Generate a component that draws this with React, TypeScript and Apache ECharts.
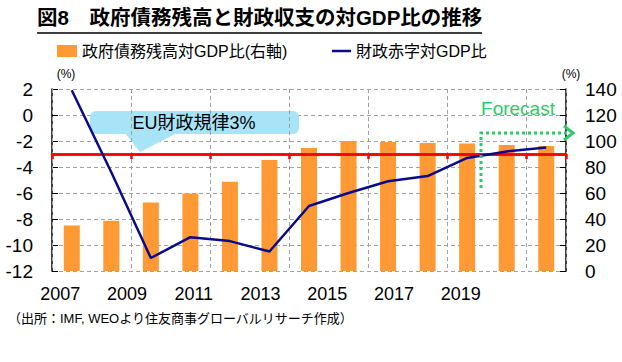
import React, { useEffect, useRef } from "react";
import * as echarts from "echarts";

const years = ["2007", "2008", "2009", "2010", "2011", "2012", "2013", "2014", "2015", "2016", "2017", "2018", "2019"];
const yearLabels = ["2007", "2009", "2011", "2013", "2015", "2017", "2019"];
const debtRatio = [35.0, 38.6, 52.6, 59.6, 68.7, 85.4, 94.6, 100.0, 99.2, 98.5, 98.0, 96.9, 96.2];
const balanceRatio = [1.9, -4.4, -11.0, -9.4, -9.7, -10.5, -7.0, -6.0, -5.1, -4.7, -3.3, -2.8, -2.5];
const euRuleLevel = -3;

const TITLE = "図8　政府債務残高と財政収支の対GDP比の推移";
const DEBT_NAME = "政府債務残高対GDP比(右軸)";
const BAL_NAME = "財政赤字対GDP比";
const SOURCE = "（出所：IMF, WEOより住友商事グローバルリサーチ作成）";
const CALLOUT = "EU財政規律3%";
const FORECAST = "Forecast";

const FONT = "'Liberation Sans', Arial, 'Noto Sans CJK JP', sans-serif";

export default function App() {
  const ref = useRef<HTMLDivElement>(null);
  useEffect(() => {
    if (!ref.current) return;
    const chart = echarts.init(ref.current, undefined, { renderer: "svg" });
    const green = "#2BCB6A";
    const option: any = {
      animation: false,
      backgroundColor: "#ffffff",
      textStyle: { fontFamily: FONT, color: "#000" },
      grid: [
        { left: 52, right: 56, top: 89, bottom: 91, containLabel: false },
        { left: 27, right: 128, top: 89, bottom: 91, containLabel: false },
      ],
      legend: [
        {
          left: 52,
          top: 38,
          itemWidth: 20,
          itemHeight: 12,
          textStyle: { fontFamily: FONT, fontSize: 16, color: "#000" },
          data: [{ name: DEBT_NAME, icon: "rect" }],
        },
        {
          left: 327,
          top: 38,
          itemWidth: 19,
          itemHeight: 2.5,
          textStyle: { fontFamily: FONT, fontSize: 16, color: "#000" },
          data: [{ name: BAL_NAME, icon: "rect" }],
        },
      ],
      xAxis: [
        {
          type: "category",
          gridIndex: 0,
          data: years,
          position: "bottom",
          offset: -117,
          axisLine: { show: true, onZero: false, lineStyle: { color: "#FF0000", width: 2.5 } },
          axisTick: { show: true, interval: 1, length: 5, lineStyle: { color: "#FF0000", width: 2.5 } },
          axisLabel: { show: false },
          splitLine: { show: true, interval: 1, lineStyle: { color: "#A0A0A0", type: [4, 3], width: 1 } },
          z: 3,
        },
        {
          type: "category",
          gridIndex: 1,
          data: yearLabels,
          axisLine: { show: false },
          axisTick: { show: false },
          axisLabel: { fontSize: 18, color: "#000", margin: 14, fontFamily: FONT },
          splitLine: { show: false },
        },
      ],
      yAxis: [
        {
          type: "value",
          gridIndex: 0,
          min: -12,
          max: 2,
          interval: 2,
          name: "(%)",
          nameLocation: "end",
          nameGap: 9,
          nameTextStyle: { fontSize: 12, color: "#000", padding: [0, 0, 0, 28], fontFamily: FONT },
          axisLine: { show: true, lineStyle: { color: "#000", width: 1.5 } },
          axisTick: { show: true, inside: true, length: 6, lineStyle: { color: "#000" } },
          axisLabel: { fontSize: 19, color: "#000", margin: 19, fontFamily: FONT },
          splitLine: { show: true, lineStyle: { color: "#A0A0A0", type: [4, 3], width: 1 } },
        },
        {
          type: "value",
          gridIndex: 0,
          position: "right",
          min: 0,
          max: 140,
          interval: 20,
          name: "(%)",
          nameLocation: "end",
          nameGap: 9,
          nameTextStyle: { fontSize: 12, color: "#000", padding: [0, 0, 0, 10], fontFamily: FONT },
          axisLine: { show: true, lineStyle: { color: "#000", width: 1.5 } },
          axisTick: { show: true, inside: true, length: 6, lineStyle: { color: "#000" } },
          axisLabel: { fontSize: 19, color: "#000", margin: 19, fontFamily: FONT },
          splitLine: { show: false },
        },
        { type: "value", gridIndex: 1, show: false, min: 0, max: 1 },
      ],
      series: [
        {
          name: DEBT_NAME,
          type: "bar",
          xAxisIndex: 0,
          yAxisIndex: 1,
          data: debtRatio,
          barWidth: 16,
          itemStyle: { color: "#FF9933" },
          z: 2,
        },
        {
          name: BAL_NAME,
          type: "line",
          xAxisIndex: 0,
          yAxisIndex: 0,
          data: balanceRatio,
          symbol: "none",
          lineStyle: { color: "#0A0A8C", width: 2.5 },
          itemStyle: { color: "#0A0A8C" },
          z: 5,
        },
        {
          name: "eu",
          type: "line",
          xAxisIndex: 0,
          yAxisIndex: 0,
          data: [],
          markLine: {
            silent: true,
            symbol: "none",
            label: { show: false },
            lineStyle: { color: "#FF0000", width: 2.5, type: "solid" },
            data: [{ yAxis: euRuleLevel }],
          },
          z: 3,
        },
      ],
      graphic: [
        {
          type: "text",
          left: 37,
          top: 7,
          style: { text: TITLE, fontSize: 20.5, fontWeight: "bold", fill: "#000", fontFamily: FONT },
        },
        {
          type: "line",
          shape: { x1: 37, y1: 33, x2: 482, y2: 33 },
          style: { stroke: "#000", lineWidth: 1.5 },
        },
        {
          type: "rect",
          z: 1,
          shape: { x: 90, y: 111, width: 209, height: 23, r: 6 },
          style: { fill: "#A8E4F8" },
        },
        {
          type: "polygon",
          z: 1,
          shape: { points: [[125, 133], [177, 133], [140, 152]] },
          style: { fill: "#A8E4F8" },
        },
        {
          type: "text",
          z: 1,
          x: 194,
          y: 123,
          style: { text: CALLOUT, fontSize: 18, fill: "#000", align: "center", verticalAlign: "middle", fontFamily: FONT },
        },
        {
          type: "text",
          z: 10,
          x: 518,
          y: 108,
          style: { text: FORECAST, fontSize: 19, fill: green, align: "center", verticalAlign: "middle", fontFamily: FONT },
        },
        {
          type: "polyline",
          z: 10,
          shape: { points: [[481, 188], [481, 133], [566, 133]] },
          style: { stroke: green, lineWidth: 3, lineDash: [3, 3], fill: null },
        },
        {
          type: "polyline",
          z: 10,
          shape: { points: [[564, 126], [573, 133], [564, 140]] },
          style: { stroke: green, lineWidth: 3, fill: null },
        },
        {
          type: "text",
          left: 8,
          top: 312,
          style: { text: SOURCE, fontSize: 13, fill: "#000", fontFamily: FONT },
        },
      ],
    };
    chart.setOption(option);
    return () => chart.dispose();
  }, []);
  return (
    <div
      ref={ref}
      style={{ position: "fixed", left: 0, top: 0, width: 622, height: 362, background: "#fff" }}
    />
  );
}
